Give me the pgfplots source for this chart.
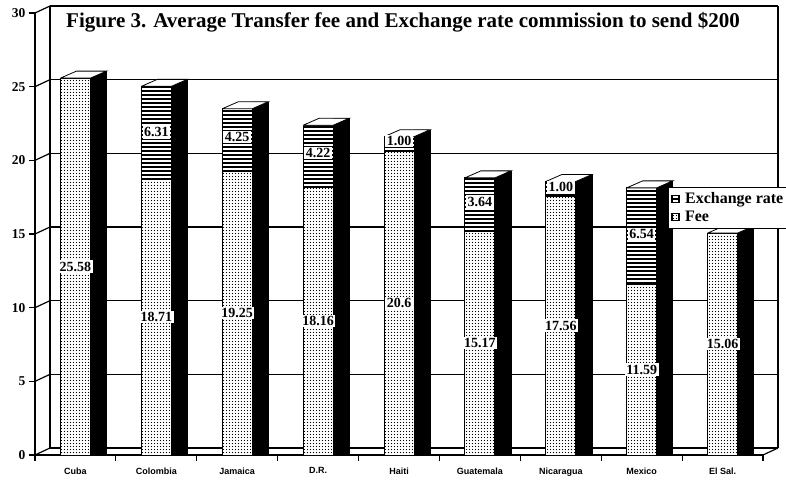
\documentclass[border=0pt]{standalone}
\usepackage{pgfplots}
\pgfplotsset{compat=1.18}
\usepackage{pgfplotstable}
\usetikzlibrary{patterns}
\usepackage{fontspec}
\setmainfont{Liberation Serif}
\newfontfamily\sansfont{Liberation Sans}

\pgfdeclarepatternformonly{hlinesthick}{\pgfpoint{-1pt}{-1pt}}{\pgfpoint{101pt}{5pt}}{\pgfpoint{100pt}{4pt}}{%
  \pgfsetlinewidth{1.3pt}%
  \pgfpathmoveto{\pgfpoint{-1pt}{2pt}}\pgfpathlineto{\pgfpoint{101pt}{2pt}}\pgfusepath{stroke}}
\pgfdeclarepatternformonly{densedots}{\pgfpoint{-1pt}{-1pt}}{\pgfpoint{4pt}{4pt}}{\pgfpoint{3pt}{3pt}}{%
  \pgfpathcircle{\pgfpoint{1.5pt}{1.5pt}}{0.65pt}\pgfusepath{fill}}

\pgfplotsset{boxlegend/.style={legend image code/.code={\draw[##1, line width=0.6pt] (0pt,-3.5pt) rectangle (7pt,3.5pt);}}}

\pgfplotstableread{
x fee exch
0.5 25.58 0
1.5 18.71 6.31
2.5 19.25 4.25
3.5 18.16 4.22
4.5 20.6 1.00
5.5 15.17 3.64
6.5 17.56 1.00
7.5 11.59 6.54
8.5 15.06 0
}\data

\begin{document}
\begin{tikzpicture}
\path[use as bounding box] (-35pt,-26pt) rectangle (751pt,455pt);
\begin{axis}[
  at={(0,0)}, anchor=south west,
  scale only axis, width=728pt, height=442pt,
  xmin=0, xmax=9, ymin=0, ymax=30,
  clip=false,
  axis lines*=left,
  axis line style={line width=1.4pt},
  xtick={0,...,9},
  x tick label as interval,
  xticklabels={Cuba,Colombia,Jamaica,D.R.,Haiti,Guatemala,Nicaragua,Mexico,El Sal.},
  xticklabel style={font=\sansfont\bfseries\fontsize{9}{9}\selectfont, yshift=-3pt},
  ytick={0,5,...,30},
  yticklabel style={font=\bfseries\fontsize{13.5}{13.5}\selectfont},
  /pgf/number format/assume math mode=true,
  tick align=outside,
  major tick length=6pt,
  tick style={line width=1.2pt, black},
  ymajorgrids,
  y grid style={line width=1.3pt, black, xshift=15pt, yshift=7pt},
  legend style={at={(0.8695,0.606)}, anchor=north west, draw=black, line width=1pt, fill=white,
    font=\bfseries\fontsize{16}{16}\selectfont, inner xsep=3pt, inner ysep=3pt, row sep=2pt,
    column sep=4pt, cells={anchor=west}},
]
\pgfplotsinvokeforeach{0,5,...,30}{
  \draw[line width=1.2pt] (axis cs:0,#1) -- ++(15pt,7pt);
}
\draw[line width=1.2pt] ([shift={(15pt,7pt)}]axis cs:0,0) -- ([shift={(15pt,7pt)}]axis cs:0,30);
\draw[line width=1.2pt] ([shift={(15pt,7pt)}]axis cs:9,0) -- ([shift={(15pt,7pt)}]axis cs:9,30);
\draw[line width=1.2pt] (axis cs:9,0) -- ++(15pt,7pt);

\addplot[ybar, bar width=30pt, bar shift=0pt, draw=black, line width=0.8pt,
  preaction={fill=white}, pattern=hlinesthick, boxlegend]
  table[x=x, y expr=\thisrow{fee}+\thisrow{exch}] {\data};
\addlegendentry{Exchange rate}
\addplot[ybar, bar width=30pt, bar shift=0pt, draw=black, line width=0.8pt,
  preaction={fill=white}, pattern=densedots, boxlegend]
  table[x=x, y=fee] {\data};
\addlegendentry{Fee}
\addplot[ybar, bar width=16pt, bar shift=23pt, fill=black, draw=black, forget plot]
  table[x=x, y expr=\thisrow{fee}+\thisrow{exch}+0.475] {\data};

\addplot[sharp plot, fill=white, draw=black, line width=0.8pt, forget plot] coordinates {(0.3146,25.58) (0.6854,25.58) (0.8832,26.055) (0.5124,26.055) (0.3146,25.58)};
\addplot[sharp plot, fill=white, draw=black, line width=0.8pt, forget plot] coordinates {(1.3146,25.02) (1.6854,25.02) (1.8832,25.495) (1.5124,25.495) (1.3146,25.02)};
\addplot[sharp plot, fill=white, draw=black, line width=0.8pt, forget plot] coordinates {(2.3146,23.5) (2.6854,23.5) (2.8832,23.975) (2.5124,23.975) (2.3146,23.5)};
\addplot[sharp plot, fill=white, draw=black, line width=0.8pt, forget plot] coordinates {(3.3146,22.38) (3.6854,22.38) (3.8832,22.855) (3.5124,22.855) (3.3146,22.38)};
\addplot[sharp plot, fill=white, draw=black, line width=0.8pt, forget plot] coordinates {(4.3146,21.6) (4.6854,21.6) (4.8832,22.075) (4.5124,22.075) (4.3146,21.6)};
\addplot[sharp plot, fill=white, draw=black, line width=0.8pt, forget plot] coordinates {(5.3146,18.81) (5.6854,18.81) (5.8832,19.285) (5.5124,19.285) (5.3146,18.81)};
\addplot[sharp plot, fill=white, draw=black, line width=0.8pt, forget plot] coordinates {(6.3146,18.56) (6.6854,18.56) (6.8832,19.035) (6.5124,19.035) (6.3146,18.56)};
\addplot[sharp plot, fill=white, draw=black, line width=0.8pt, forget plot] coordinates {(7.3146,18.13) (7.6854,18.13) (7.8832,18.605) (7.5124,18.605) (7.3146,18.13)};
\addplot[sharp plot, fill=white, draw=black, line width=0.8pt, forget plot] coordinates {(8.3146,15.06) (8.6854,15.06) (8.8832,15.535) (8.5124,15.535) (8.3146,15.06)};

\addplot[only marks, mark=none, forget plot, point meta=explicit symbolic,
  nodes near coords, nodes near coords align=center,
  every node near coord/.append style={anchor=center, fill=white, inner sep=1.5pt,
    font=\bfseries\fontsize{14}{14}\selectfont}]
  coordinates {
  (0.5,12.79)[25.58] (1.5,9.36)[18.71] (2.5,9.63)[19.25] (3.5,9.08)[18.16]
  (4.5,10.3)[20.6] (5.5,7.59)[15.17] (6.5,8.78)[17.56] (7.5,5.80)[11.59] (8.5,7.53)[15.06]
  (1.5,21.9)[6.31] (2.5,21.6)[4.25] (3.5,20.5)[4.22] (4.5,21.3)[1.00]
  (5.5,17.2)[3.64] (6.5,18.2)[1.00] (7.5,15.0)[6.54]
  };

\node[font=\bfseries\fontsize{21}{21}\selectfont] at (axis cs:4.55,29.35)
  {Figure 3. Average Transfer fee and Exchange rate commission to send \$200};
\end{axis}
\end{tikzpicture}
\end{document}
